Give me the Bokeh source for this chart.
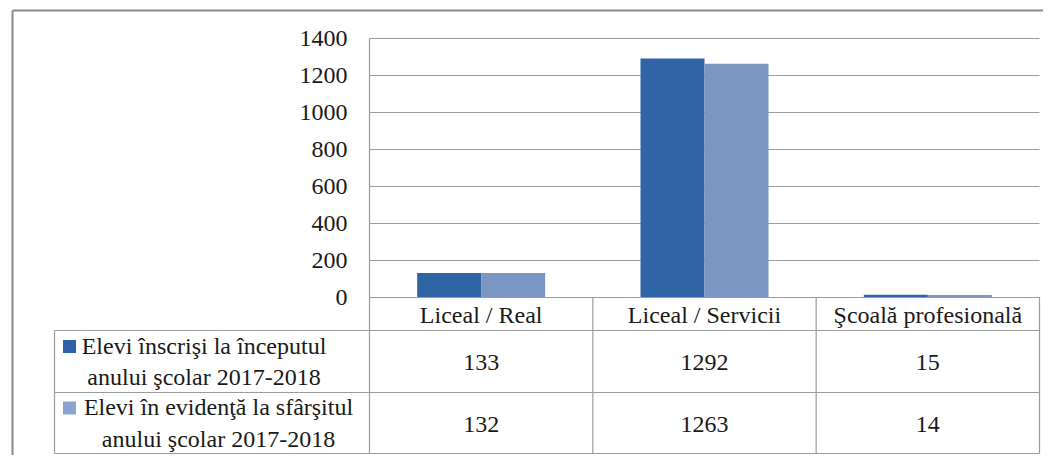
from bokeh.plotting import figure
from bokeh.core.properties import value
from bokeh.embed import file_html
from bokeh.resources import INLINE

# ---------------- data ----------------
categories = ["Liceal / Real", "Liceal / Servicii", "Şcoală profesională"]
series_names = [
    "Elevi înscrişi la începutul\nanului şcolar 2017-2018",
    "Elevi în evidenţă la sfârşitul\nanului şcolar 2017-2018",
]
enrolled_start = [133, 1292, 15]
registered_end = [132, 1263, 14]
y_ticks = [0, 200, 400, 600, 800, 1000, 1200, 1400]
y_tick_labels = ["0", "200", "400", "600", "800", "1000", "1200", "1400"]

# ---------------- layout (picture pixels) ----------------
FIG_W, FIG_H, PAGE_OFF = 1043, 455, 0
PLOT_LEFT, PLOT_RIGHT = 369, 1039      # category area
ZERO_Y, TOP_Y = 297, 38                 # y of 0 and of 1400
Y_MAX = 1400
CAT_PX = (PLOT_RIGHT - PLOT_LEFT) / len(categories)
BAR_PX = 64


def X(px):
    return 0.5 + (px - PLOT_LEFT) / CAT_PX


def Y(py):
    return (ZERO_Y - py) * Y_MAX / (ZERO_Y - TOP_Y)


FONT = value("'Liberation Serif', 'Times New Roman', serif")
FSIZE = "24px"
TXT = "#1a1a1a"
LINE = "#9c9c9c"
C1 = "#2f64a6"
C2 = "#7b96c3"

p = figure(
    width=FIG_W, height=FIG_H,
    x_range=(X(PAGE_OFF), X(PAGE_OFF + FIG_W)),
    y_range=(Y(PAGE_OFF + FIG_H), Y(PAGE_OFF)),
    x_axis_type=None, y_axis_type=None,
    toolbar_location=None, output_backend="svg",
    min_border_left=0, min_border_right=0, min_border_top=0, min_border_bottom=0,
)
p.outline_line_color = None
p.background_fill_color = "white"
p.border_fill_color = "white"
p.xgrid.visible = False
p.ygrid.visible = False

# outer chart border (left and top visible)
p.segment(x0=[X(12), X(12)], y0=[Y(10), Y(10)], x1=[X(PAGE_OFF + FIG_W), X(12)],
          y1=[Y(10), Y(PAGE_OFF + FIG_H)], line_color="#8a8a8a", line_width=2)

# gridlines
p.segment(x0=0.5, x1=0.5 + len(categories), y0=y_ticks, y1=y_ticks,
          line_color=LINE, line_width=1.2)

# bars
xs = [i + 1 for i in range(len(categories))]
bw = BAR_PX / CAT_PX
p.vbar(x=[x - bw / 2 for x in xs], top=enrolled_start, bottom=0, width=bw,
       fill_color=C1, line_color=None)
p.vbar(x=[x + bw / 2 for x in xs], top=registered_end, bottom=0, width=bw,
       fill_color=C2, line_color=None)

# y tick labels
p.text(x=X(347), y=y_ticks, text=y_tick_labels, text_align="right",
       text_baseline="middle", text_font=FONT, text_font_size=FSIZE, text_color=TXT)

# ---------------- data table ----------------
TABLE_LEFT, HEAD_BOT, ROW1_BOT, TABLE_BOT = 54, 330, 392, 453
# horizontal lines
p.segment(x0=[0.5, X(TABLE_LEFT), X(TABLE_LEFT), X(TABLE_LEFT)],
          x1=[3.5, 3.5, 3.5, 3.5],
          y0=[0, Y(HEAD_BOT), Y(ROW1_BOT), Y(TABLE_BOT)],
          y1=[0, Y(HEAD_BOT), Y(ROW1_BOT), Y(TABLE_BOT)],
          line_color=LINE, line_width=1.2)
# vertical lines
p.segment(x0=[X(TABLE_LEFT), 0.5, 1.5, 2.5, 3.5],
          x1=[X(TABLE_LEFT), 0.5, 1.5, 2.5, 3.5],
          y0=[Y(HEAD_BOT), Y_MAX, 0, 0, 0],
          y1=[Y(TABLE_BOT)] * 5,
          line_color=LINE, line_width=1.2)

# header (categories)
p.text(x=xs, y=Y((ZERO_Y + HEAD_BOT) / 2 + 1), text=categories, text_align="center",
       text_baseline="middle", text_font=FONT, text_font_size=FSIZE, text_color=TXT)

# values
row1_c = (HEAD_BOT + ROW1_BOT) / 2
row2_c = (ROW1_BOT + TABLE_BOT) / 2
p.text(x=xs, y=Y(row1_c + 1), text=[str(v) for v in enrolled_start],
       text_align="center", text_baseline="middle", text_font=FONT,
       text_font_size=FSIZE, text_color=TXT)
p.text(x=xs, y=Y(row2_c + 1), text=[str(v) for v in registered_end],
       text_align="center", text_baseline="middle", text_font=FONT,
       text_font_size=FSIZE, text_color=TXT)

# legend keys + series names
p.scatter(x=[X(69), X(69)], y=[Y(row1_c - 15), Y(row2_c - 15)], marker="square", size=13,
          fill_color=["#2e62a8", "#8aa3cf"], line_color=None)
p.text(x=[X(203.5), X(218)], y=[Y(row1_c), Y(row2_c)], text=series_names,
       text_align="center", text_baseline="middle", text_font=FONT,
       text_font_size=FSIZE, text_color=TXT, text_line_height=1.2)

open("out.html", "w").write(file_html(p, INLINE))
